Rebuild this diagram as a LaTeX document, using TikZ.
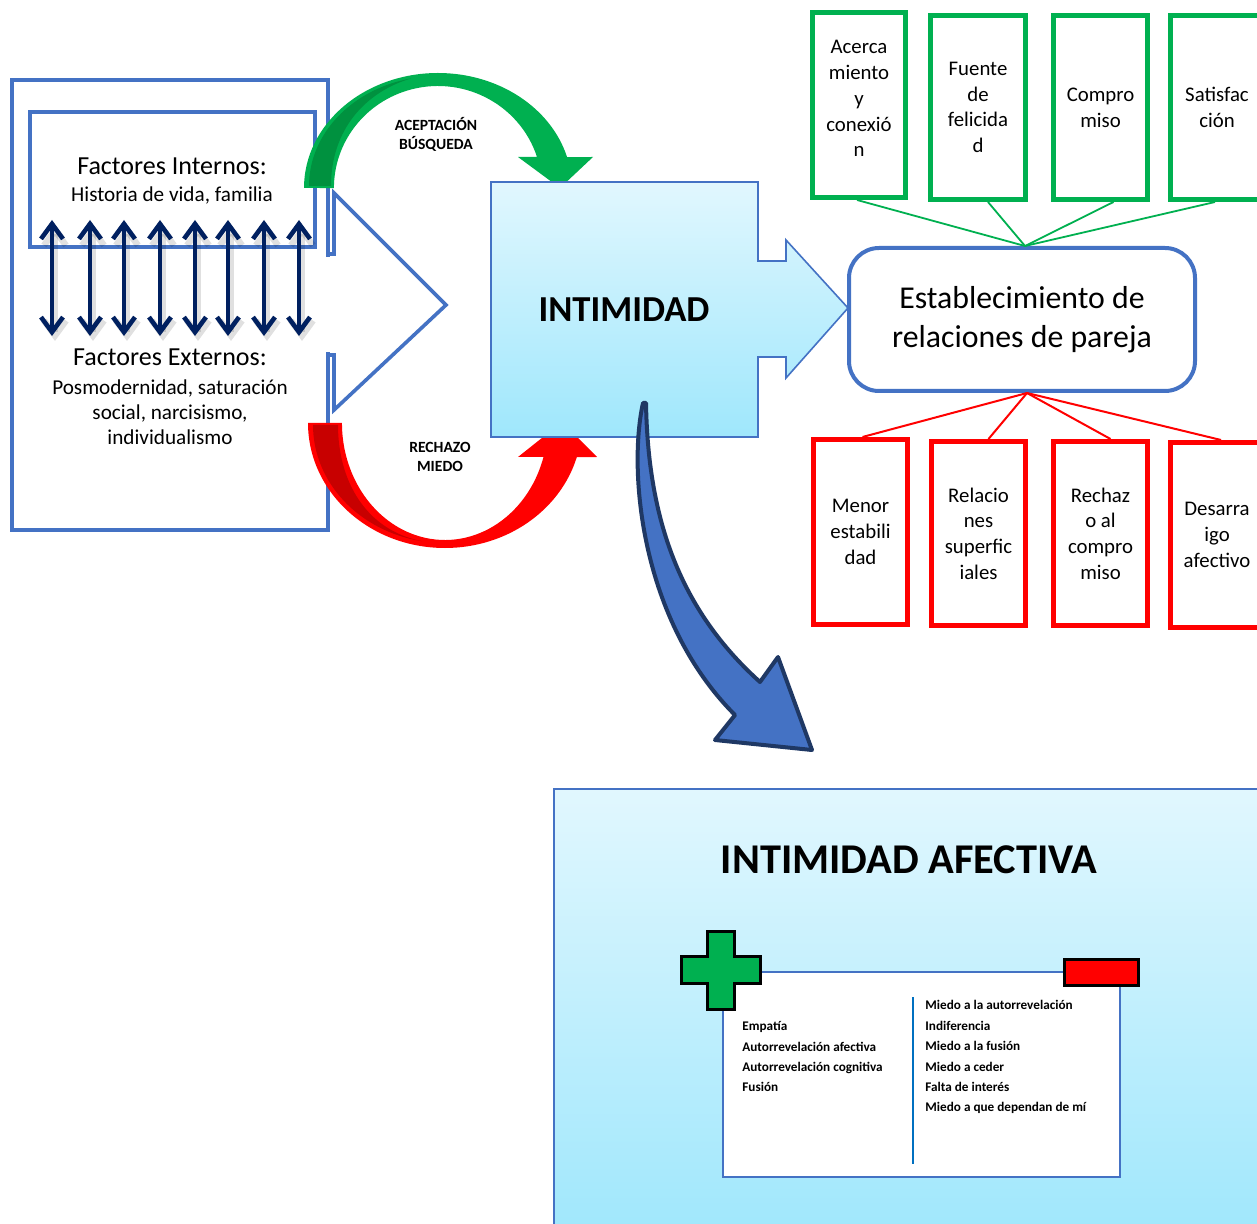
\documentclass[tikz,border=0pt]{standalone}
\usepackage{fontspec}
\setmainfont{Carlito}
\usetikzlibrary{arrows.meta}
\definecolor{oblue}{HTML}{4472C4}
\definecolor{navy}{HTML}{002060}
\definecolor{lgreen}{HTML}{00B050}
\definecolor{dgreen}{HTML}{00913F}
\definecolor{lred}{HTML}{FF0000}
\definecolor{dred}{HTML}{C80000}
\definecolor{skytop}{HTML}{E1F7FE}
\definecolor{skybot}{HTML}{9FE7FC}
\definecolor{arrowfill}{HTML}{4472C4}
\definecolor{arrowline}{HTML}{1F3864}
\definecolor{divider}{HTML}{0070C0}
\begin{document}
\begin{tikzpicture}[x=0.5pt,y=-0.5pt,
  gbox/.style={draw=lgreen, line width=2.5pt, fill=white, inner sep=0pt, align=center,
    font=\fontsize{10.4pt}{12.85pt}\selectfont},
  rbox/.style={draw=lred, line width=2.5pt, fill=white, inner sep=0pt, align=center,
    font=\fontsize{10.4pt}{12.85pt}\selectfont},
  dbl/.style={navy, line width=2.3pt, {Straight Barb[length=7.5pt,width=11pt]}-{Straight Barb[length=7.5pt,width=11pt]}},
  dblshadow/.style={black, opacity=0.12, line width=3.2pt, {Straight Barb[length=7.5pt,width=11pt]}-{Straight Barb[length=7.5pt,width=11pt]}},
  bigt/.style={inner sep=0pt, anchor=base, font=\fontsize{13pt}{15pt}\selectfont},
  smt/.style={inner sep=0pt, anchor=base, font=\fontsize{10.6pt}{12.8pt}\selectfont},
  lab/.style={inner sep=0pt, anchor=base, font=\bfseries\fontsize{7.8pt}{9.5pt}\selectfont},
  listt/.style={inner sep=0pt, anchor=base west, font=\bfseries\fontsize{6.6pt}{8pt}\selectfont},
]
\useasboundingbox (0,0) rectangle (1257,1224);
\clip (0,0) rectangle (1257,1224);
\fill[white] (0,0) rectangle (1257,1224);

% ---------- left boxes ----------
\draw[oblue, line width=2.2pt, fill=white] (12,80) rectangle (328,530);
\draw[oblue, line width=2.2pt] (30,112) rectangle (315,247);

% block arrow outline (mostly hidden)
\fill[white] (324,257) rectangle (333,352);
\draw[oblue, line width=1.8pt, line join=miter] (328,254) -- (334,254) -- (334,193) -- (446,305) -- (334,410) -- (334,355) -- (328,355);

% texts
\node[bigt] (fint) at (172,175) {Factores Internos:};
\node[smt] (hist) at (172,201.5) {Historia de vida, familia};
\node[bigt] (fext) at (170,366) {Factores Externos:};
\node[smt] (pos1) at (170,394.5) {Posmodernidad, saturación};
\node[smt] (pos2) at (170,419.5) {social, narcisismo,};
\node[smt] (pos3) at (170,444.5) {individualismo};

% double arrows
\foreach \x [count=\i] in {52,90,124,160,195,228,264,299} {
  \draw[dblshadow] (\x+3,225) -- (\x+3,341);
  \draw[dbl] (\x,220) -- (\x,336);
}

% ---------- green curved arrow ----------
\fill[lgreen] (304,188) arc[start angle=180,end angle=344.4,x radius=134,y radius=115]
  -- (593,157) -- (560,188) -- (518,157) -- (537,157)
  arc[start angle=342.3,end angle=180,x radius=104,y radius=102] -- cycle;
\fill[dgreen] (309,186) arc[start angle=180,end angle=258,x radius=129,y radius=110]
  .. controls (365,92) and (331,130) .. (331,186) -- cycle;

% ---------- red curved arrow ----------
\fill[lred] (308,423) arc[start angle=180,end angle=15.8,x radius=137,y radius=125]
  -- (597,457) -- (562,422) -- (518,457) -- (543.5,457)
  arc[start angle=16.9,end angle=180,x radius=103,y radius=117] -- cycle;
\fill[dred] (313,425) arc[start angle=180,end angle=100,x radius=132,y radius=118]
  .. controls (365,530) and (338,480) .. (338,425) -- cycle;

\node[lab] (acep) at (436,131) {ACEPTACIÓN};
\node[lab] (busq) at (436,150) {BÚSQUEDA};
\node[lab] (rech) at (440,453) {RECHAZO};
\node[lab] (mied) at (440,472) {MIEDO};

% ---------- INTIMIDAD ----------
\draw[oblue, line width=0.8pt, top color=skytop, bottom color=skybot]
  (491,182) -- (758,182) -- (758,261) -- (786,261) -- (786,240) -- (848,308)
  -- (786,378) -- (786,357) -- (758,357) -- (758,437) -- (491,437) -- cycle;
\node[inner sep=0pt, anchor=base, font=\bfseries\fontsize{18.3pt}{22pt}\selectfont] (intim) at (624,322) {INTIMIDAD};

% ---------- relaciones ----------
\node[draw=oblue, line width=2pt, rounded corners=15pt, fill=white, minimum width=173pt,
  minimum height=71.5pt, align=center, font=\fontsize{15.9pt}{19.5pt}\selectfont] (est) at (1022,319.5)
  {Establecimiento de\\relaciones de pareja};

% green boxes
\node[gbox, minimum width=46.5pt, minimum height=92.5pt] (g1) at (859,105) {Acerca\\miento\\y\\conexió\\n\\[-6.5pt]\mbox{}};
\node[gbox, minimum width=47.5pt, minimum height=92pt] (g2) at (978,107.5) {Fuente\\de\\felicida\\d};
\node[gbox, minimum width=47pt, minimum height=92pt] (g3) at (1100.5,107.5) {Compro\\miso};
\node[gbox, minimum width=46.5pt, minimum height=92pt] (g4) at (1217,107.5) {Satisfac\\ción};

\draw[lgreen, line width=0.9pt] ([xshift=-1pt]g1.south) -- ([xshift=1.5pt]est.north);
\draw[lgreen, line width=0.9pt] ([xshift=5pt]g2.south) -- ([xshift=1.5pt]est.north);
\draw[lgreen, line width=0.9pt] ([xshift=6.5pt]g3.south) -- ([xshift=1.5pt]est.north);
\draw[lgreen, line width=0.9pt] ([xshift=-1pt]g4.south) -- ([xshift=1.5pt]est.north);

% red boxes
\node[rbox, minimum width=47pt, minimum height=92.5pt] (r1) at (860.5,532) {Menor\\estabili\\dad};
\node[rbox, minimum width=47pt, minimum height=92pt] (r2) at (978.5,533.5) {Relacio\\nes\\superfic\\iales};
\node[rbox, minimum width=47pt, minimum height=92pt] (r3) at (1100.5,533.5) {Rechaz\\o al\\compro\\miso};
\node[rbox, minimum width=46.5pt, minimum height=92.5pt] (r4) at (1217,535) {Desarra\\igo\\afectivo};

\draw[lred, line width=1pt] ([xshift=2.5pt]est.south) -- ([xshift=1pt]r1.north);
\draw[lred, line width=1pt] ([xshift=2.5pt]est.south) -- ([xshift=5pt]r2.north);
\draw[lred, line width=1pt] ([xshift=2.5pt]est.south) -- ([xshift=5pt]r3.north);
\draw[lred, line width=1pt] ([xshift=2.5pt]est.south) -- ([xshift=2pt]r4.north);

% ---------- big blue curved arrow ----------
\draw[arrowline, fill=arrowfill, line width=2pt, line join=round]
  (643,403) .. controls (628,470) and (640,620) .. (735,715) -- (715,740) -- (812,750)
  -- (778,657) -- (760,682) .. controls (680,610) and (648,520) .. (646,403) -- cycle;

% ---------- bottom panel ----------
\draw[oblue, line width=1pt, top color=skytop, bottom color=skybot] (554,789) rectangle (1280,1240);
\node[inner sep=0pt, anchor=base, font=\bfseries\fontsize{21.2pt}{25pt}\selectfont] (title) at (909,873.5) {INTIMIDAD AFECTIVA};

\node[draw=oblue, line width=1.3pt, fill=white, minimum width=198.5pt, minimum height=102.5pt, inner sep=0pt] (panel) at (921.5,1074.5) {};
\draw[black, line width=1.5pt, fill=lgreen] (707,931) -- (734,931) -- (734,956) -- (760,956) -- (760,983)
  -- (734,983) -- (734,1009) -- (707,1009) -- (707,983) -- (681,983) -- (681,956) -- (707,956) -- cycle;
\node[draw=black, line width=1.5pt, fill=lred, minimum width=37pt, minimum height=13pt, inner sep=0pt] (minus) at (1101,972) {};
\draw[divider, line width=1.3pt] (913,997) -- (913,1164);

\foreach \t/\yy [count=\i] in {Empatía/1030, Autorrevelación afectiva/1051, Autorrevelación cognitiva/1071, Fusión/1091}
  \node[listt] (pl\i) at (742,\yy) {\t};
\foreach \t/\yy [count=\i] in {Miedo a la autorrevelación/1009, Indiferencia/1030, Miedo a la fusión/1050, Miedo a ceder/1071, Falta de interés/1091, Miedo a que dependan de mí/1111}
  \node[listt] (ml\i) at (925,\yy) {\t};
\end{tikzpicture}
\end{document}
